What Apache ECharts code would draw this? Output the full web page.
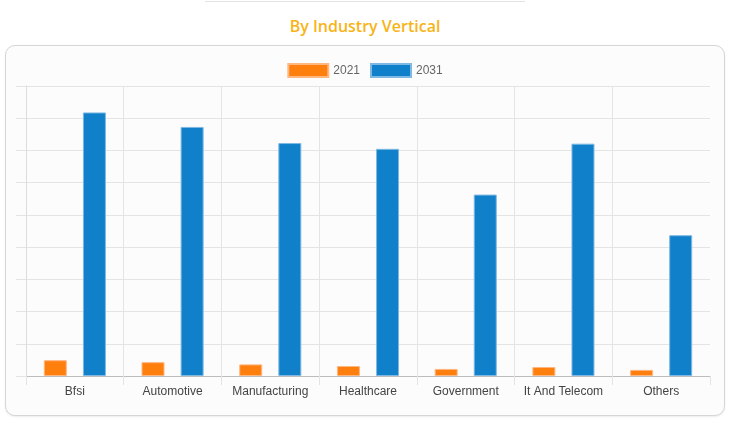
<!DOCTYPE html>
<html><head><meta charset="utf-8">
<script src="https://cdn.jsdelivr.net/npm/echarts@6/dist/echarts.min.js"></script>
<style>
html,body{margin:0;padding:0;width:730px;height:423px;background:#fff;overflow:hidden;font-family:"Open Sans",sans-serif;}
#topline{position:absolute;left:205px;top:1px;width:320px;height:1px;background:#e3e3e3;}
#title{position:absolute;left:0;top:15px;width:730px;text-align:center;color:#f7b417;font-size:16px;font-weight:600;font-family:"Open Sans",sans-serif;}
#card{position:absolute;left:5px;top:45px;width:718px;height:369px;border:1px solid #d6d6d6;border-radius:10px;background:#fcfcfc;box-shadow:0 1px 2px rgba(0,0,0,0.08);}
#chart{position:absolute;left:0;top:0;width:730px;height:423px;}
</style></head>
<body>
<div id="topline"></div>
<div id="title">By Industry Vertical</div>
<div id="card"></div>
<div id="chart"></div>
<script>
const categories = ["Bfsi","Automotive","Manufacturing","Healthcare","Government","It And Telecom","Others"];
const values2021 = [0.49,0.43,0.36,0.31,0.22,0.28,0.19];
const values2031 = [8.18,7.73,7.23,7.05,5.63,7.21,4.37];
const seriesNames = ["2021","2031"];

const chart = echarts.init(document.getElementById('chart'), null, {renderer:'canvas'});
chart.setOption({
  backgroundColor:'transparent',
  animation:false,
  legend:{
    top:58, left:'center', itemWidth:40, itemHeight:13, itemGap:10, icon:'rect',
    textStyle:{color:'#666',fontSize:12,fontFamily:'Liberation Sans, Arial, sans-serif'},
    data:seriesNames
  },
  grid:{left:26,right:20,top:86,bottom:47,containLabel:false},
  xAxis:{
    type:'category', data:categories, boundaryGap:true,
    axisLine:{show:true,lineStyle:{color:'#bdbdbd',width:1}},
    axisTick:{show:true,length:9,lineStyle:{color:'#e4e4e4'}},
    axisLabel:{color:'#444',fontSize:12,margin:10,fontFamily:'Liberation Sans, Arial, sans-serif',interval:0},
    splitLine:{show:true,showMaxLine:false,lineStyle:{color:'#e4e4e4'}}
  },
  yAxis:{
    type:'value', min:0, max:9, interval:1,
    axisLine:{show:true,lineStyle:{color:'#dcdcdc'}},
    axisTick:{show:true,length:10,lineStyle:{color:'#e4e4e4'}},
    axisLabel:{show:false},
    splitLine:{show:true,lineStyle:{color:'#e4e4e4'}}
  },
  series:[
    {name:seriesNames[0],type:'bar',data:values2021,barWidth:23,barGap:'70%',
     itemStyle:{color:'#ff7f0e',borderColor:'#ffb780',borderWidth:1}},
    {name:seriesNames[1],type:'bar',data:values2031,barWidth:23,barGap:'70%',
     itemStyle:{color:'#0f80c9',borderColor:'#7fb8e2',borderWidth:1}}
  ]
});
</script>
</body></html>
